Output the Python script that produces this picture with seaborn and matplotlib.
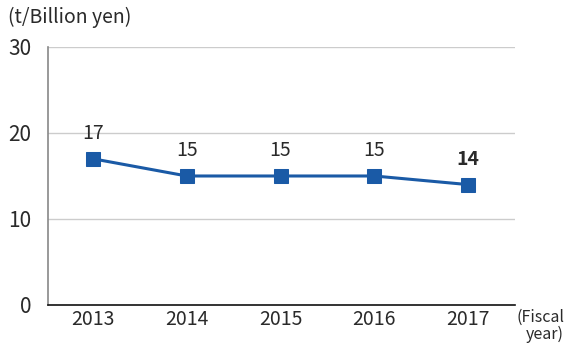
import matplotlib
matplotlib.use("Agg")
import matplotlib.pyplot as plt
import seaborn as sns
import pandas as pd

years = ["2013", "2014", "2015", "2016", "2017"]
values = [17, 15, 15, 15, 14]
yticks = [0, 10, 20, 30]

sns.set_theme(style="white")
plt.rcParams['font.family'] = ['Noto Sans CJK JP', 'DejaVu Sans']

df = pd.DataFrame({"year": years, "value": values})
fig = plt.figure(figsize=(5.66, 3.44), dpi=100)
ax = fig.add_axes([0.0848, 0.1134, 0.825, 0.75])

line_color = "#1a5aa6"
sns.lineplot(data=df, x="year", y="value", ax=ax, color=line_color, linewidth=2.2,
             marker="s", markersize=10, markeredgecolor=line_color, sort=False)

ax.set_ylim(0, 30)
ax.set_xlim(-0.48, 4.5)
ax.set_yticks(yticks)
ax.set_yticklabels([str(t) for t in yticks], fontsize=15, color="#2a2a2a")
ax.tick_params(axis="x", labelsize=14, colors="#2a2a2a", length=0, pad=3)
ax.tick_params(axis="y", length=0, pad=12)
for t in yticks[1:]:
    ax.axhline(t, color="#cccccc", linewidth=1, zorder=0)
ax.set_xlabel("")
ax.set_ylabel("")
for s in ["top", "right"]:
    ax.spines[s].set_visible(False)
ax.spines["left"].set_color("#888888")
ax.spines["left"].set_linewidth(1.2)
ax.spines["bottom"].set_color("#111111")
ax.spines["bottom"].set_linewidth(1.2)

for i, v in enumerate(values):
    bold = (i == len(values) - 1)
    ax.annotate(str(v), (i, v), xytext=(0, 11), textcoords="offset points",
                ha="center", va="bottom", fontsize=14,
                fontweight="bold" if bold else "normal", color="#2a2a2a")

fig.text(8/566, 1 - 17/344, "(t/Billion yen)", fontsize=14, color="#2a2a2a", va="center", ha="left")
fig.text(564/566, 1 - 326/344, "(Fiscal\nyear)", fontsize=11.5, color="#2a2a2a", va="center", ha="right",
         multialignment="right", linespacing=1.0)

fig.savefig("out.png", dpi=100)
